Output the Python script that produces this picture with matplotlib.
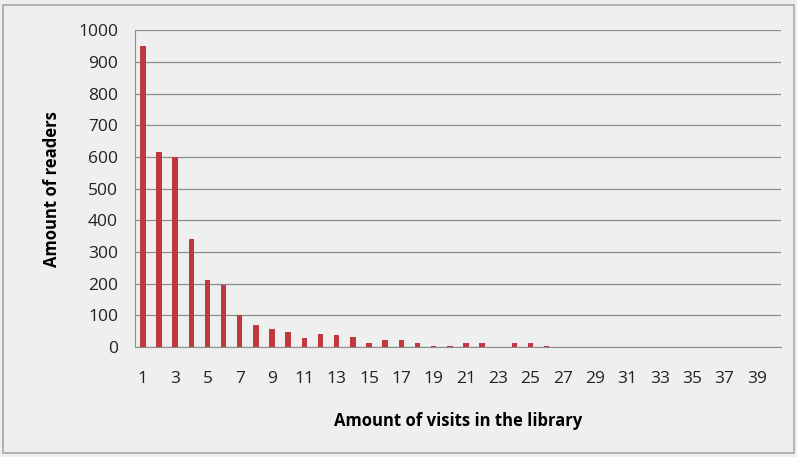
import matplotlib.pyplot as plt
from matplotlib.patches import Rectangle

visits = list(range(1, 41))
readers = [950, 615, 600, 340, 210, 195, 100, 70, 57, 48,
           27, 42, 38, 32, 13, 22, 22, 13, 3, 3,
           12, 13, 0, 12, 13, 3, 0, 0, 0, 0,
           0, 0, 0, 0, 0, 0, 0, 0, 0, 0]
tick_labels = [str(v) for v in visits[::2]]

plt.rcParams['font.family'] = ['Open Sans', 'DejaVu Sans']

fig = plt.figure(figsize=(7.97, 4.57), dpi=100)
fig.patch.set_facecolor('#efefef')
fig.patches.append(Rectangle((0.004, 0.008), 0.992, 0.982, transform=fig.transFigure,
                             fill=False, edgecolor='#a8a8a8', linewidth=1.2))

ax = fig.add_axes([0.169, 0.2407, 0.811, 0.6933])
ax.set_facecolor('#efefef')
ax.bar(visits, readers, width=0.34, color='#c0393f', zorder=3)

ax.set_xlim(0.5, 40.5)
ax.set_ylim(0, 1000)
ax.set_yticks(range(0, 1001, 100))
ax.set_xticks(visits[::2])
ax.set_xticklabels(tick_labels)
ax.yaxis.grid(True, color='#8c8c8c', linewidth=0.9, zorder=0)
ax.tick_params(axis='both', length=0, labelsize=12.5, colors='#222222')
ax.tick_params(axis='x', pad=17)
ax.tick_params(axis='y', pad=12)
for side in ['top', 'right']:
    ax.spines[side].set_visible(False)
ax.spines['left'].set_color('#8c8c8c')
ax.spines['bottom'].set_color('#8c8c8c')

ax.set_xlabel('Amount of visits in the library', fontsize=12, fontweight='bold', labelpad=18)
ax.set_ylabel('Amount of readers', fontsize=12, fontweight='bold', labelpad=12)

fig.savefig('out.png', dpi=100, facecolor=fig.get_facecolor())
